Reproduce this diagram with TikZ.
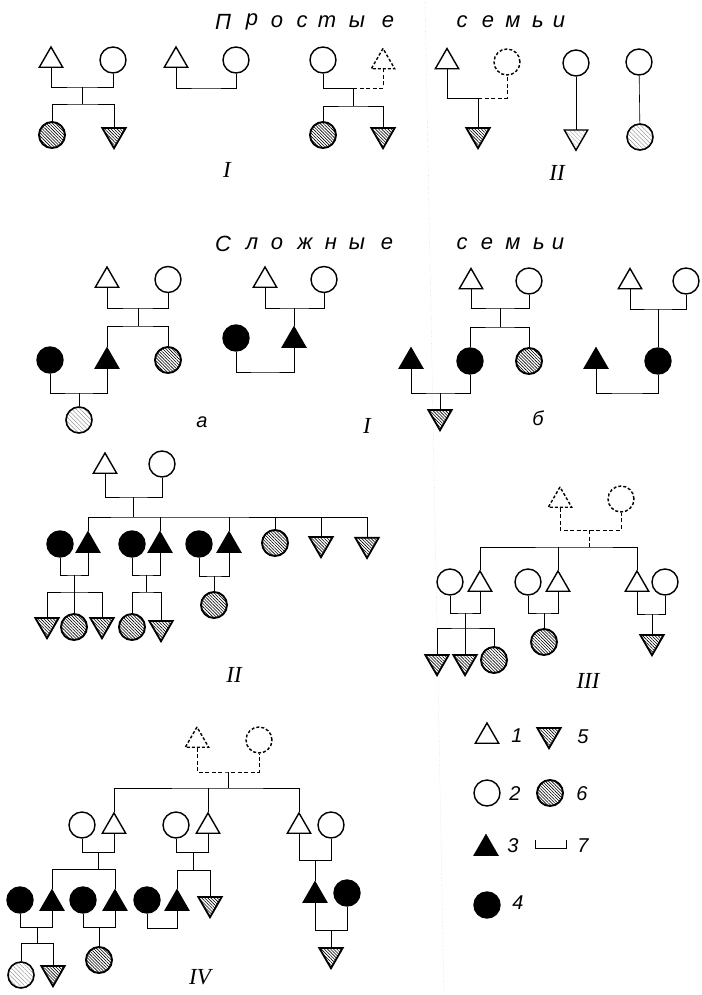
\documentclass[tikz,border=0pt]{standalone}
\usepackage{fontspec}
\setmainfont{Liberation Serif}
\setsansfont{Liberation Sans}
\usetikzlibrary{shapes.geometric, patterns.meta}

\tikzset{
    man/.style={regular polygon, regular polygon sides=3, draw, line width=1.4pt,
        minimum size=27pt, inner sep=0pt},
    woman/.style={circle, draw, line width=1.4pt, minimum size=26pt, inner sep=0pt},
    son/.style={man, shape border rotate=180, line width=1.8pt,
        pattern={Lines[angle=-45, distance=2.2pt, line width=0.6pt]}},
    daughter/.style={woman, line width=1.9pt,
        pattern={Lines[angle=-45, distance=2.2pt, line width=0.6pt]}},
    paleson/.style={man, shape border rotate=180, line width=1.4pt,
        pattern={Lines[angle=-45, distance=3pt, line width=0.3pt]}, pattern color=gray},
    paledaughter/.style={woman, line width=1.6pt,
        pattern={Lines[angle=-45, distance=3pt, line width=0.3pt]}, pattern color=gray},
    blackman/.style={man, fill=black},
    blackwoman/.style={woman, fill=black},
    ghostman/.style={man, dash pattern=on 3pt off 2pt},
    ghostwoman/.style={woman, dash pattern=on 3pt off 2pt},
    tie/.style={line width=0.9pt},
    ghosttie/.style={tie, dash pattern=on 4pt off 2.5pt},
    tag/.style={font=\itshape\fontsize{23}{23}\selectfont, inner sep=0pt},
    keytag/.style={font=\sffamily\itshape\fontsize{20}{20}\selectfont, inner sep=0pt},
    titlech/.style={font=\sffamily\itshape\fontsize{22}{22}\selectfont, inner sep=0pt}
}

\begin{document}
\begin{tikzpicture}[x=1pt, y=-1pt]
\useasboundingbox (0,0) rectangle (701,995);

% fold of the page
\coordinate (foldtop) at (425,0);
\coordinate (foldbot) at (444,995);
\draw[gray!55, line width=0.4pt, dotted] (foldtop) -- (foldbot);

% titles
\foreach \ch/\x [count=\i] in {П/223,р/252,о/277,с/302,т/327,ы/357,е/388,с/462,е/488,м/513,ь/538,и/559}
    \node[titlech] (ta\i) at (\x,22) {\ch};
\foreach \ch/\x [count=\i] in {С/223,л/252,о/277,ж/305,н/331,ы/357,е/387,с/462,е/487,м/513,ь/539,и/558}
    \node[titlech] (tb\i) at (\x,244) {\ch};

% simple families I
\node[man] (t1) at (51,60.5) {};
\node[woman] (w1) at (113,60) {};
\node[daughter] (d1) at (52,135) {};
\node[son] (s1) at (114,134.75) {};
\coordinate (j1) at (82,87);
\coordinate (k1) at (82,104);
\draw[tie] (t1.south) |- (j1) -| (w1.south);
\draw[tie] (j1) -- (k1);
\draw[tie] (d1.north) |- (k1) -| (s1.north);

\node[man] (t2) at (176,60.5) {};
\node[woman] (w2) at (236,60) {};
\coordinate (j2) at (206,88);
\draw[tie] (t2.south) |- (j2) -| (w2.south);

\node[woman] (w3) at (323,60) {};
\node[ghostman] (t3) at (383,62) {};
\node[daughter] (d3) at (323,135) {};
\node[son] (s3) at (383,134.75) {};
\coordinate (j3) at (353,88);
\coordinate (k3) at (353,106);
\draw[tie] (w3.south) |- (j3);
\draw[ghosttie] (j3) -| (t3.south);
\draw[tie] (j3) -- (k3);
\draw[tie] (d3.north) |- (k3) -| (s3.north);

\node[tag] (labI) at (227,170) {I};

% simple families II
\node[man] (t4) at (447,62) {};
\node[ghostwoman] (w4) at (507,62) {};
\node[son] (s4) at (478,134.75) {};
\coordinate (j4) at (478,98);
\draw[tie] (t4.south) |- (j4);
\draw[ghosttie] (j4) -| (w4.south);
\draw[tie] (j4) -- (s4.north);

\node[woman] (w5) at (576,63) {};
\node[paleson] (s5) at (576,136.75) {};
\draw[line width=0.6pt] (w5) -- (s5);

\node[woman] (w6) at (639,62) {};
\node[paledaughter] (d6) at (640,137) {};
\draw[line width=0.6pt] (w6) -- (d6);

\node[tag] (labII) at (557,173) {II};

% complex families I a
\node[man] (t7) at (107,280.5) {};
\node[woman] (w7) at (168,279.5) {};
\node[blackman] (bm7) at (107,361.5) {};
\node[daughter] (d7) at (168,360) {};
\node[blackwoman] (bw7) at (50,360) {};
\node[paledaughter] (d8) at (79,420) {};
\coordinate (j7) at (138,308);
\coordinate (k7) at (138,326);
\coordinate (j8) at (79,393);
\draw[tie] (t7.south) |- (j7) -| (w7.south);
\draw[tie] (j7) -- (k7);
\draw[tie] (bm7.north) |- (k7) -| (d7.north);
\draw[tie] (bw7.south) |- (j8) -| (bm7.south);
\draw[tie] (j8) -- (d8.north);
\node[keytag] (laba) at (202,422) {a};

\node[man] (t9) at (265,280.5) {};
\node[woman] (w9) at (324,279.5) {};
\node[blackman] (bm9) at (294,340.5) {};
\node[blackwoman] (bw9) at (236,338) {};
\coordinate (j9) at (294,308);
\coordinate (j10) at (265,372);
\draw[tie] (t9.south) |- (j9) -| (w9.south);
\draw[tie] (j9) -- (bm9.north);
\draw[tie] (bw9.south) |- (j10) -| (bm9.south);
\node[tag] (labIb) at (367,426) {I};

% complex families I b
\node[man] (t11) at (471,282) {};
\node[woman] (w11) at (529,281) {};
\node[blackwoman] (bw11) at (470,361) {};
\node[daughter] (d11) at (529,361) {};
\node[blackman] (bm11) at (411,361.5) {};
\node[son] (s12) at (440,416.75) {};
\coordinate (j11) at (500,308);
\coordinate (k11) at (500,327);
\coordinate (j12) at (440,393);
\draw[tie] (t11.south) |- (j11) -| (w11.south);
\draw[tie] (j11) -- (k11);
\draw[tie] (bw11.north) |- (k11) -| (d11.north);
\draw[tie] (bm11.south) |- (j12) -| (bw11.south);
\draw[tie] (j12) -- (s12.north);
\node[keytag] (labb) at (538,418) {б};

\node[man] (t13) at (630,282) {};
\node[woman] (w13) at (686,281) {};
\node[blackwoman] (bw13) at (658,361) {};
\node[blackman] (bm13) at (596,361.5) {};
\coordinate (j13) at (658,309);
\coordinate (j14) at (627,393);
\draw[tie] (t13.south) |- (j13) -| (w13.south);
\draw[tie] (j13) -- (bw13.north);
\draw[tie] (bm13.south) |- (j14) -| (bw13.south);

% complex families II
\node[man] (t15) at (105,466.5) {};
\node[woman] (w15) at (162,464) {};
\coordinate (j15) at (133,497);
\coordinate (k15) at (133,517);
\draw[tie] (t15.south) |- (j15) -| (w15.south);
\draw[tie] (j15) -- (k15);

\node[blackwoman] (bw16) at (60,544) {};
\node[blackman] (bm16) at (88,545.5) {};
\node[blackwoman] (bw17) at (132,544) {};
\node[blackman] (bm17) at (160,545.5) {};
\node[blackwoman] (bw18) at (199,544) {};
\node[blackman] (bm18) at (229,545.5) {};
\node[daughter] (d15) at (275,543) {};
\node[son] (s15a) at (321,543.75) {};
\node[son] (s15b) at (367,544.5) {};
\draw[tie] (bm16.north) |- (k15) -| (s15b.north);
\foreach \n in {bm17, bm18, d15, s15a}
    \draw[tie] (\n.north) -- (\n.north |- k15);

\node[son] (s16a) at (47,624.75) {};
\node[daughter] (d16) at (74,627) {};
\node[son] (s16b) at (102,624.75) {};
\coordinate (j16) at (74,575);
\coordinate (k16) at (74,592);
\draw[tie] (bw16.south) |- (j16) -| (bm16.south);
\draw[tie] (j16) -- (d16.north);
\draw[tie] (s16a.north) |- (k16) -| (s16b.north);

\node[daughter] (d17) at (132,627) {};
\node[son] (s17) at (161,627.75) {};
\coordinate (j17) at (146,575);
\coordinate (k17) at (146,592);
\draw[tie] (bw17.south) |- (j17) -| (bm17.south);
\draw[tie] (j17) -- (k17);
\draw[tie] (d17.north) |- (k17) -| (s17.north);

\node[daughter] (d18) at (214,605) {};
\coordinate (j18) at (214,576);
\draw[tie] (bw18.south) |- (j18) -| (bm18.south);
\draw[tie] (j18) -- (d18.north);
\node[tag] (labIIc) at (234,675) {II};

% complex families III
\node[ghostman] (gt19) at (560,500.5) {};
\node[ghostwoman] (gw19) at (621,499) {};
\coordinate (j19) at (589,530);
\coordinate (k19) at (589,547);
\draw[ghosttie] (gt19.south) |- (j19) -| (gw19.south);
\draw[ghosttie] (j19) -- (k19);

\node[woman] (w20) at (450,582) {};
\node[man] (t20) at (480,584.5) {};
\node[woman] (w21) at (528,582) {};
\node[man] (t21) at (558,584.5) {};
\node[man] (t22) at (637,584.5) {};
\node[woman] (w22) at (665,582) {};
\draw[tie] (t20.north) |- (k19) -| (t22.north);
\draw[tie] (t21.north) -- (t21.north |- k19);

\node[son] (s20a) at (437,661.75) {};
\node[son] (s20b) at (465,661.75) {};
\node[daughter] (d20) at (494,660) {};
\coordinate (j20) at (465,613);
\coordinate (k20) at (465,628);
\draw[tie] (w20.south) |- (j20) -| (t20.south);
\draw[tie] (j20) -- (s20b.north);
\draw[tie] (s20a.north) |- (k20) -| (d20.north);

\node[daughter] (d21) at (544,642) {};
\coordinate (j21) at (544,613);
\draw[tie] (w21.south) |- (j21) -| (t21.south);
\draw[tie] (j21) -- (d21.north);

\node[son] (s22) at (652,641.75) {};
\coordinate (j22) at (652,614);
\draw[tie] (t22.south) |- (j22) -| (w22.south);
\draw[tie] (j22) -- (s22.north);
\node[tag] (labIII) at (588,681) {III};

% complex families IV
\node[ghostman] (gt23) at (197,740.5) {};
\node[ghostwoman] (gw23) at (259,740) {};
\coordinate (j23) at (228,772);
\coordinate (k23) at (228,788);
\draw[ghosttie] (gt23.south) |- (j23) -| (gw23.south);
\draw[tie] (j23) -- (k23);

\node[woman] (w24) at (82,825) {};
\node[man] (t24) at (114,826.5) {};
\node[woman] (w25) at (176,825) {};
\node[man] (t25) at (208,826.5) {};
\node[man] (t26) at (299,826.5) {};
\node[woman] (w26) at (331,825) {};
\draw[tie] (t24.north) |- (k23) -| (t26.north);
\draw[tie] (t25.north) -- (t25.north |- k23);

\node[blackwoman] (bw27) at (20,900) {};
\node[blackman] (bm27) at (52,903.5) {};
\node[blackwoman] (bw28) at (83,900) {};
\node[blackman] (bm28) at (115,903.5) {};
\node[blackwoman] (bw29) at (147,900) {};
\node[blackman] (bm29) at (177,903.5) {};
\node[son] (s25) at (210,903.75) {};
\coordinate (j24) at (98,852);
\coordinate (k24) at (98,869);
\draw[tie] (w24.south) |- (j24) -| (t24.south);
\draw[tie] (j24) -- (k24);
\draw[tie] (bm27.north) |- (k24) -| (bm28.north);
\coordinate (j25) at (193,852);
\coordinate (k25) at (193,870);
\draw[tie] (w25.south) |- (j25) -| (t25.south);
\draw[tie] (j25) -- (k25);
\draw[tie] (bm29.north) |- (k25) -| (s25.north);

\node[blackman] (bm30) at (315,895.5) {};
\node[blackwoman] (bw30) at (347,893) {};
\node[son] (s31) at (331,954.75) {};
\coordinate (j26) at (315,860);
\coordinate (j31) at (331,930);
\draw[tie] (t26.south) |- (j26) -| (w26.south);
\draw[tie] (j26) -- (bm30.north);
\draw[tie] (bm30.south) |- (j31) -| (bw30.south);
\draw[tie] (j31) -- (s31.north);

\node[paledaughter] (d27) at (21,975) {};
\node[son] (s27) at (53,972.75) {};
\coordinate (j27) at (37,927);
\coordinate (k27) at (37,943);
\draw[tie] (bw27.south) |- (j27) -| (bm27.south);
\draw[tie] (j27) -- (k27);
\draw[tie] (d27.north) |- (k27) -| (s27.north);

\node[daughter] (d28) at (99,960) {};
\coordinate (j28) at (99,927);
\draw[tie] (bw28.south) |- (j28) -| (bm28.south);
\draw[tie] (j28) -- (d28.north);

\coordinate (j29) at (162,928);
\draw[tie] (bw29.south) |- (j29) -| (bm29.south);
\node[tag] (labIV) at (200,977) {IV};

% key
\node[man] (key1) at (487,736.5) {};
\node[keytag] (num1) at (517,736) {1};
\node[son] (key5) at (549,734.75) {};
\node[keytag] (num5) at (583,737) {5};
\node[woman] (key2) at (487,793) {};
\node[keytag] (num2) at (515,794) {2};
\node[daughter] (key6) at (550,793) {};
\node[keytag] (num6) at (582,794) {6};
\node[blackman] (key3) at (486,848.5) {};
\node[keytag] (num3) at (513,846) {3};
\coordinate (key7a) at (535,840);
\coordinate (key7b) at (566,840);
\coordinate (key7m) at (550,848);
\draw[tie] (key7a) |- (key7m) -| (key7b);
\node[keytag] (num7) at (583,846) {7};
\node[blackwoman] (key4) at (487,905) {};
\node[keytag] (num4) at (518,903) {4};
\end{tikzpicture}
\end{document}
